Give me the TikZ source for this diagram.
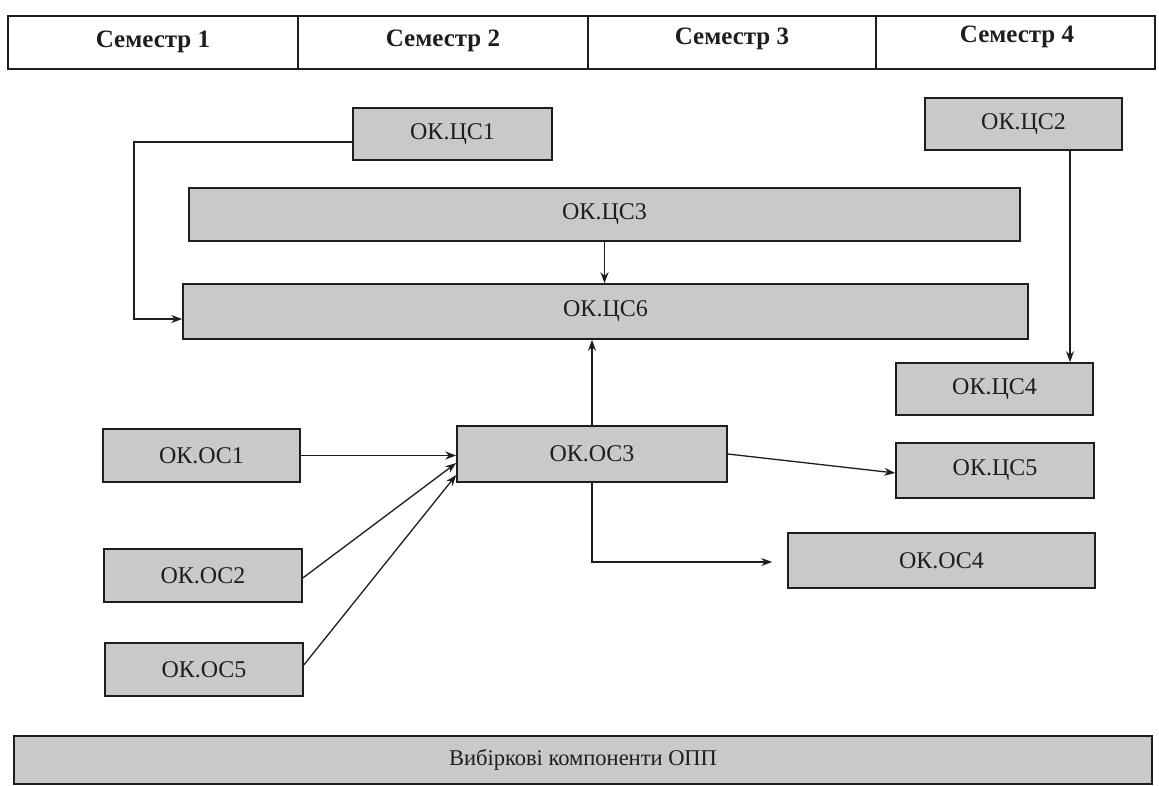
\documentclass[tikz,border=0pt]{standalone}
\usepackage{fontspec}
\setmainfont{Liberation Serif}
\usetikzlibrary{arrows.meta}
\definecolor{boxfill}{RGB}{201,201,201}
\definecolor{inkc}{RGB}{30,30,30}
\tikzset{
  okbox/.style={draw=inkc, line width=1.6pt, fill=boxfill, inner sep=0pt,
    font=\fontsize{24}{28}\selectfont, text=inkc},
  hdrtext/.style={font=\bfseries\fontsize{25}{29}\selectfont, text=inkc, inner sep=0pt},
  conn/.style={draw=inkc, line width=1.3pt, -{Stealth[length=11pt,width=8pt]}},
}
\newcommand{\okb}[6]{\node[okbox, minimum width=#4pt, minimum height=#5pt] (#1) at (#2,#3) {#6};}
\begin{document}
\begin{tikzpicture}[x=1pt,y=-1pt]
\useasboundingbox (0,0) rectangle (1159,785);
\fill[white] (0,0) rectangle (1159,785);
% header table
\draw[inkc, line width=1.6pt] (8,16) rectangle (1155,69);
\draw[inkc, line width=1.2pt] (298,16) -- (298,69) (588,16) -- (588,69) (876,16) -- (876,69);
\node[hdrtext] (s1) at (153,42) {Семестр 1};
\node[hdrtext] (s2) at (443,41) {Семестр 2};
\node[hdrtext] (s3) at (732,39) {Семестр 3};
\node[hdrtext] (s4) at (1017,37) {Семестр 4};
% boxes
\okb{c1}{452.5}{134}{199}{52}{ОК.ЦС1}
\okb{c2}{1023.5}{124}{197}{52}{ОК.ЦС2}
\okb{c3}{604.5}{214.5}{831}{53}{ОК.ЦС3}
\okb{c6}{605.5}{311.5}{845}{55}{ОК.ЦС6}
\okb{c4}{994.5}{389}{197}{52}{ОК.ЦС4}
\okb{o1}{201.5}{455.5}{197}{53}{ОК.ОС1}
\okb{o3}{592}{454}{270}{56}{ОК.ОС3}
\okb{c5}{995}{470.5}{198}{55}{ОК.ЦС5}
\okb{o4}{941.5}{560.5}{307}{55}{ОК.ОС4}
\okb{o2}{203}{575.5}{198}{53}{ОК.ОС2}
\okb{o5}{204}{669.5}{198}{53}{ОК.ОС5}
\node[okbox, minimum width=1138pt, minimum height=48pt, font=\fontsize{22.5}{26}\selectfont] (opp) at (583,760) {Вибіркові компоненти ОПП};
% helper coordinates
\coordinate (k1) at (134,142);
\coordinate (v2) at (1070,250);
% connectors
\draw[conn] (c1.west |- k1) -- (k1) |- ([yshift=-7.5pt]c6.west);
\draw[conn] (c3.south) -- (c3.south |- c6.north);
\draw[conn] (o3.north) -- (o3.north |- c6.south);
\draw[conn] (c2.south -| v2) -- (c4.north -| v2);
\draw[conn] (o1.east) -- (o1.east -| o3.west);
\draw[conn] ([yshift=-2.5pt]o2.east) -- ([yshift=-9pt]o3.west);
\draw[conn] ([yshift=4.5pt]o5.east) -- ([yshift=-21pt]o3.west);
\draw[conn] (o3.east) -- ([yshift=-2.5pt]c5.west);
\draw[conn] (o3.south) |- ([xshift=-15pt,yshift=-1.5pt]o4.west);
\end{tikzpicture}
\end{document}
